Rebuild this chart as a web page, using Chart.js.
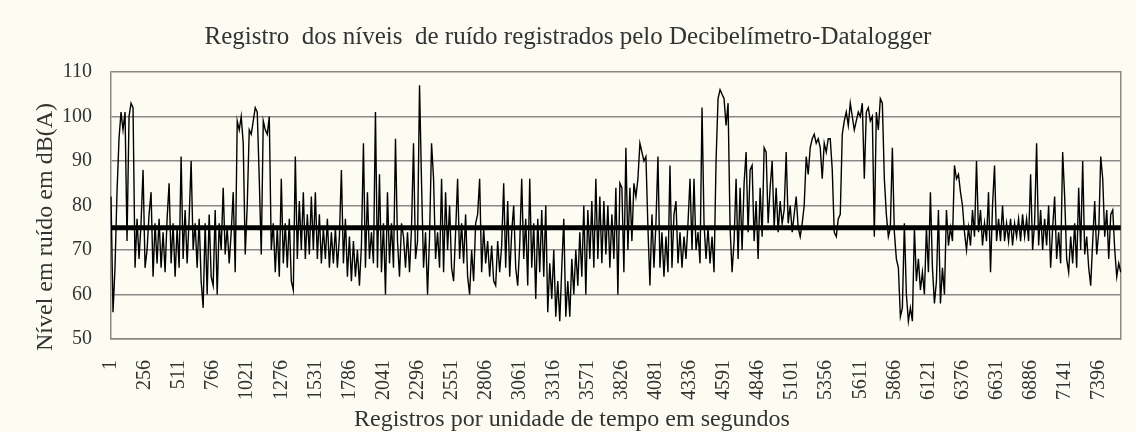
<!DOCTYPE html>
<html lang="pt-BR">
<head>
<meta charset="utf-8">
<title>Registro dos níveis de ruído</title>
<script src="https://cdn.jsdelivr.net/npm/chart.js@4.4.1/dist/chart.umd.min.js"></script>
<style>
  html, body { margin: 0; padding: 0; background: #fdfcf3; }
  canvas { display: block; }
</style>
</head>
<body>
<canvas id="grafico_ruido" width="1136" height="432"></canvas>
<script>
const tituloGrafico = 'Registro  dos níveis  de ruído registrados pelo Decibelímetro-Datalogger';
const tituloY = 'Nível em ruído em dB(A)';
const tituloX = 'Registros por unidade de tempo em segundos';

// one reading every 15 records (seconds)
const passo = 15;
const limite = 75;
const rotulosX = [1, 256, 511, 766, 1021, 1276, 1531, 1786, 2041, 2296, 2551, 2806, 3061, 3316, 3571,
  3826, 4081, 4336, 4591, 4846, 5101, 5356, 5611, 5866, 6121, 6376, 6631, 6886, 7141, 7396];

// nivel em dB(A)
const niveis = [
  // 1 - 751
  82, 56, 66, 83, 95, 101, 97, 101, 72, 100, 103, 102, 66, 77, 68, 76, 88, 66, 70, 78,
  83, 64, 76, 67, 77, 66, 74, 65, 77, 85, 67, 76, 64, 75, 66, 91, 68, 79, 67, 77,
  90, 70, 76, 66, 77, 63, 57, 76, 60, 78, 64,
  // 766 - 1516
  62, 79, 60, 76, 70, 84, 69, 75, 67, 74, 83, 65, 99, 97, 100, 94, 69, 80, 97, 96,
  99, 102, 101, 86, 69, 99, 97, 96, 100, 70, 76, 65, 75, 64, 86, 67, 76, 66, 77, 63,
  61, 91, 68, 81, 70, 83, 68, 78, 69, 82, 70,
  // 1531 - 2281
  83, 68, 78, 67, 75, 68, 77, 66, 74, 67, 75, 66, 73, 88, 67, 77, 64, 73, 63, 72,
  64, 70, 62, 71, 94, 66, 83, 68, 74, 67, 101, 66, 87, 65, 76, 60, 83, 67, 76, 66,
  95, 72, 64, 76, 73, 66, 74, 65, 75, 94, 68,
  // 2296 - 3046
  72, 107, 85, 66, 74, 60, 73, 94, 86, 68, 74, 66, 86, 65, 83, 70, 80, 66, 63, 74,
  86, 68, 76, 67, 78, 64, 60, 70, 63, 76, 78, 86, 65, 75, 67, 72, 64, 71, 63, 62,
  72, 65, 71, 85, 66, 81, 64, 74, 80, 66, 62,
  // 3061 - 3811
  71, 86, 68, 77, 62, 86, 66, 76, 59, 77, 65, 79, 64, 80, 56, 67, 59, 70, 55, 63,
  54, 66, 77, 55, 63, 55, 68, 60, 70, 62, 74, 64, 80, 60, 79, 68, 81, 66, 86, 68,
  82, 67, 81, 69, 80, 66, 78, 68, 84, 60, 85,
  // 3826 - 4576
  84, 65, 93, 70, 84, 72, 85, 82, 86, 94, 92, 90, 91, 75, 62, 78, 66, 76, 91, 66,
  74, 64, 73, 65, 89, 66, 78, 81, 67, 74, 66, 73, 68, 76, 86, 70, 86, 70, 74, 67,
  102, 76, 68, 75, 67, 73, 65, 90, 104, 106, 105,
  // 4591 - 5341
  104, 98, 103, 75, 65, 72, 86, 68, 84, 70, 85, 92, 74, 88, 89, 72, 81, 68, 84, 73,
  93, 92, 76, 84, 90, 75, 84, 74, 81, 76, 79, 92, 76, 80, 74, 78, 82, 75, 73, 76,
  80, 91, 87, 93, 95, 96, 94, 95, 93, 86, 94,
  // 5356 - 6106
  92, 95, 95, 88, 74, 73, 77, 78, 96, 99, 101, 98, 103, 100, 97, 99, 101, 100, 103, 86,
  101, 102, 99, 100, 73, 101, 97, 104, 103, 86, 78, 73, 75, 93, 74, 68, 66, 55, 57, 76,
  60, 54, 57, 54, 75, 63, 68, 61, 65, 60, 75,
  // 6121 - 6871
  65, 83, 66, 58, 63, 79, 58, 66, 60, 79, 71, 75, 72, 89, 86, 87, 83, 80, 74, 70,
  75, 71, 79, 73, 90, 74, 79, 71, 76, 72, 83, 65, 80, 89, 72, 77, 72, 80, 72, 76,
  72, 77, 71, 76, 73, 77, 72, 78, 73, 77, 72,
  // 6886 - 7561
  87, 70, 76, 94, 71, 79, 70, 77, 71, 80, 66, 75, 82, 68, 74, 67, 92, 82, 68, 65,
  73, 67, 76, 66, 84, 70, 90, 69, 73, 66, 62, 72, 81, 69, 74, 91, 86, 73, 79, 68,
  78, 79, 70, 64, 67, 65
];

const registros = niveis.map((_, i) => 1 + i * passo);

const fonte = '"Liberation Serif", "Times New Roman", serif';
const corTexto = '#333333';
const corGrade = '#8e8686';

Chart.defaults.font.family = fonte;
Chart.defaults.color = corTexto;
Chart.defaults.plugins.legend.display = false;
Chart.defaults.plugins.tooltip.enabled = false;

const fundo = {
  id: 'fundo',
  beforeDraw(chart) {
    const ctx = chart.ctx;
    ctx.save();
    ctx.fillStyle = '#fdfcf3';
    ctx.fillRect(0, 0, chart.width, chart.height);
    ctx.restore();
  }
};

// axis titles are centred on the whole figure, not on the plot area
const titulosEixos = {
  id: 'titulosEixos',
  afterDraw(chart) {
    const ctx = chart.ctx;
    ctx.save();
    ctx.fillStyle = corTexto;
    ctx.textAlign = 'center';
    ctx.textBaseline = 'middle';
    ctx.font = '24px ' + fonte;
    ctx.fillText(tituloX, chart.width / 2 + 4, 420);
    ctx.translate(46, 227);
    ctx.rotate(-Math.PI / 2);
    ctx.font = '24px ' + fonte;
    ctx.fillText(tituloY, 0, 0);
    ctx.restore();
  }
};

new Chart(document.getElementById('grafico_ruido'), {
  type: 'line',
  data: {
    labels: registros,
    datasets: [
      {
        label: 'Limite',
        data: registros.map(() => limite),
        yAxisID: 'y',
        borderColor: '#000',
        borderWidth: 5,
        pointRadius: 0
      },
      {
        label: 'Nível dB(A)',
        data: niveis,
        yAxisID: 'y',
        borderColor: '#000',
        borderWidth: 1.4,
        pointRadius: 0,
        tension: 0
      }
    ]
  },
  options: {
    responsive: false,
    animation: false,
    events: [],
    layout: { padding: 0 },
    plugins: {
      title: {
        display: true,
        text: tituloGrafico,
        color: corTexto,
        font: { size: 25, weight: 'normal' },
        padding: { top: 22, bottom: 20 }
      }
    },
    scales: {
      x: {
        offset: false,
        grid: { display: false },
        border: { display: true, color: corGrade, width: 1.5 },
        ticks: { autoSkip: false, minRotation: 90, maxRotation: 90, padding: 13, font: { size: 20 } },
        afterBuildTicks: (escala) => {
          escala.ticks = escala.ticks.filter(t => rotulosX.includes(registros[t.value]));
        },
        afterFit: (escala) => { escala.height = 93; }
      },
      y: {
        min: 50,
        max: 110,
        ticks: { stepSize: 10, padding: 19, font: { size: 20 } },
        grid: { color: corGrade, lineWidth: 1.5, drawTicks: false },
        border: { display: true, color: corGrade, width: 1.5 },
        afterFit: (escala) => { escala.width = 111; }
      },
      y2: {
        position: 'right',
        grid: { display: false, drawTicks: false },
        ticks: { display: false },
        border: { display: true, color: corGrade, width: 1.5 },
        afterFit: (escala) => { escala.width = 13; }
      }
    }
  },
  plugins: [fundo, titulosEixos]
});
</script>
</body>
</html>
